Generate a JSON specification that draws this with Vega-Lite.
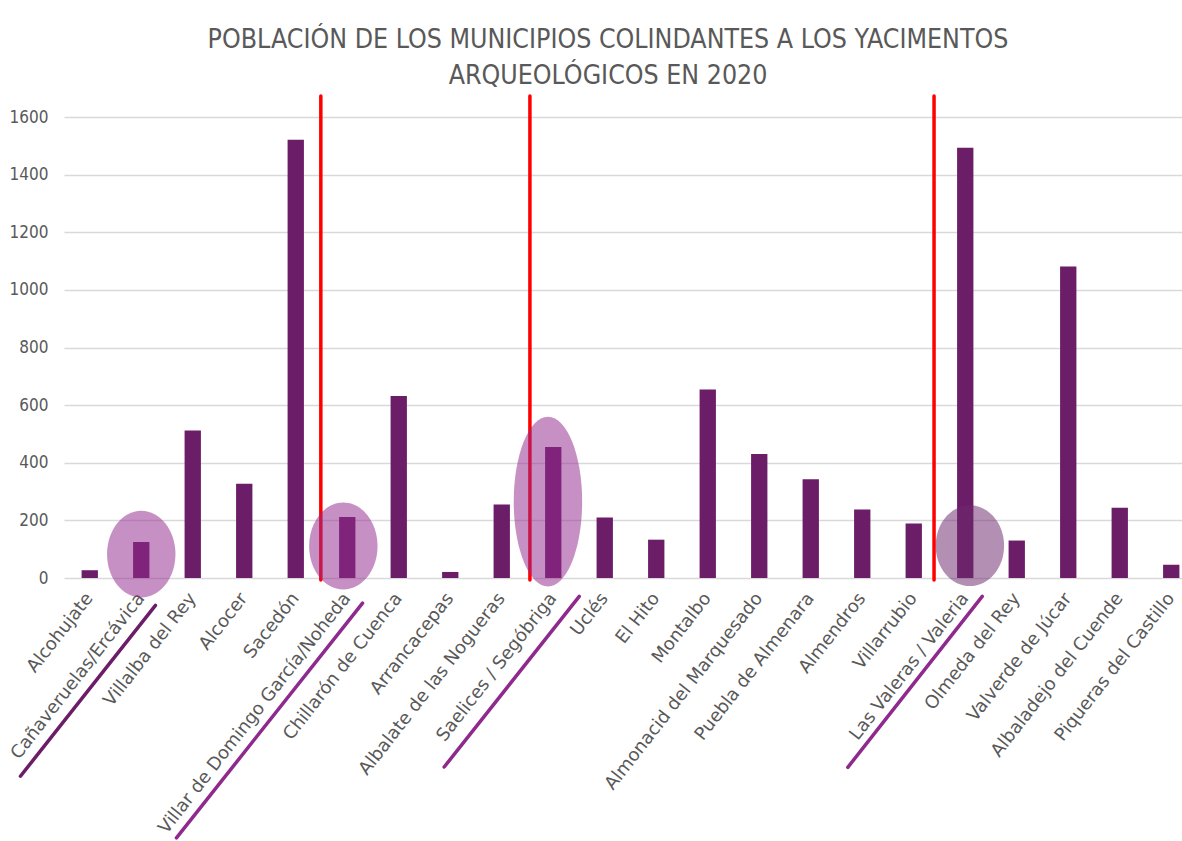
{
  "$schema": "https://vega.github.io/schema/vega-lite/v6.json",
  "width": 1118,
  "height": 461,
  "autosize": "none",
  "padding": {"left": 64, "top": 117, "right": 0, "bottom": 263},
  "background": "white",
  "config": {
    "view": {"stroke": null},
    "axis": {"labelColor": "#595959", "title": null}
  },
  "title": {
    "text": ["POBLACIÓN DE LOS MUNICIPIOS COLINDANTES A LOS YACIMENTOS", "ARQUEOLÓGICOS EN 2020"],
    "font": "Liberation Sans Narrow, DejaVu Sans Condensed, Roboto Condensed, Liberation Sans",
    "fontSize": 26.5,
    "fontWeight": "normal",
    "color": "#595959",
    "lineHeight": 36,
    "anchor": "middle",
    "dx": -15,
    "offset": 5
  },
  "datasets": {
    "poblacion": [
      {"municipio": "Alcohujate", "habitantes": 27},
      {"municipio": "Cañaveruelas/Ercávica", "habitantes": 125},
      {"municipio": "Villalba del Rey", "habitantes": 512},
      {"municipio": "Alcocer", "habitantes": 327},
      {"municipio": "Sacedón", "habitantes": 1521},
      {"municipio": "Villar de Domingo García/Noheda", "habitantes": 212},
      {"municipio": "Chillarón de Cuenca", "habitantes": 632},
      {"municipio": "Arrancacepas", "habitantes": 21},
      {"municipio": "Albalate de las Nogueras", "habitantes": 255},
      {"municipio": "Saelices / Segóbriga", "habitantes": 455},
      {"municipio": "Uclés", "habitantes": 210},
      {"municipio": "El Hito", "habitantes": 133},
      {"municipio": "Montalbo", "habitantes": 654},
      {"municipio": "Almonacid del Marquesado", "habitantes": 430},
      {"municipio": "Puebla de Almenara", "habitantes": 343},
      {"municipio": "Almendros", "habitantes": 238},
      {"municipio": "Villarrubio", "habitantes": 189},
      {"municipio": "Las Valeras / Valeria", "habitantes": 1493},
      {"municipio": "Olmeda del Rey", "habitantes": 130},
      {"municipio": "Valverde de Júcar", "habitantes": 1081},
      {"municipio": "Albaladejo del Cuende", "habitantes": 244},
      {"municipio": "Piqueras del Castillo", "habitantes": 46}
    ],
    "separadores": [
      {"posicion": 4.487},
      {"posicion": 8.547},
      {"posicion": 16.394}
    ],
    "yacimientos": [
      {"municipio": "Cañaveruelas/Ercávica", "posicion": 1.0, "centro": 83},
      {"municipio": "Villar de Domingo García/Noheda", "posicion": 4.924, "centro": 111},
      {"municipio": "Saelices / Segóbriga", "posicion": 8.897, "centro": 265},
      {"municipio": "Las Valeras / Valeria", "posicion": 17.09, "centro": 112}
    ],
    "subrayados": [
      {"municipio": "Cañaveruelas/Ercávica", "inicio": -1.346, "fin": 1.276, "bajo": -688, "alto": -95},
      {"municipio": "Villar de Domingo García/Noheda", "inicio": 1.684, "fin": 5.297, "bajo": -902, "alto": -87},
      {"municipio": "Saelices / Segóbriga", "inicio": 6.882, "fin": 9.505, "bajo": -656, "alto": -64},
      {"municipio": "Las Valeras / Valeria", "inicio": 14.72, "fin": 17.33, "bajo": -657, "alto": -64}
    ]
  },
  "resolve": {"scale": {"x": "independent"}},
  "layer": [
    {
      "data": {"name": "poblacion"},
      "mark": {"type": "bar", "color": "#6B1D68"},
      "encoding": {
        "x": {
          "field": "municipio",
          "type": "nominal",
          "sort": null,
          "scale": {"range": [0, 1133], "paddingInner": 0.683, "paddingOuter": 0.3415},
          "axis": {
            "labelAngle": -52,
            "labelAlign": "right",
            "labelBaseline": "middle",
            "labelFont": "DejaVu Sans",
            "labelFontSize": 18,
            "labelColor": "#595959",
            "labelPadding": 17,
            "labelLimit": 500,
            "labelOverlap": false,
            "ticks": false,
            "domain": false,
            "grid": false,
            "title": null
          }
        },
        "y": {
          "field": "habitantes",
          "type": "quantitative",
          "scale": {"domain": [0, 1600], "nice": false},
          "axis": {
            "values": [0, 200, 400, 600, 800, 1000, 1200, 1400, 1600],
            "format": "d",
            "grid": true,
            "gridColor": "#D9D9D9",
            "gridWidth": 1.4,
            "ticks": false,
            "domain": false,
            "labelFont": "Liberation Sans Narrow, DejaVu Sans Condensed, Liberation Sans",
            "labelFontSize": 17,
            "labelColor": "#595959",
            "labelPadding": 16,
            "title": null
          }
        }
      }
    },
    {
      "layer": [
        {
          "data": {"name": "separadores"},
          "mark": {"type": "rule", "color": "#FF0000", "strokeWidth": 3.5, "strokeCap": "round"},
          "encoding": {
            "x": {"field": "posicion", "type": "quantitative", "scale": {"domain": [-0.5, 21.5], "range": [0, 1133], "nice": false, "zero": false}, "axis": null},
            "y": {"datum": 1673, "type": "quantitative", "scale": {"domain": [0, 1600], "nice": false}, "title": null},
            "y2": {"datum": -7}
          }
        },
        {
          "data": {"name": "yacimientos"},
          "mark": {"type": "point", "filled": true, "size": 4680, "opacity": 0.52, "strokeWidth": 0},
          "encoding": {
            "x": {"field": "posicion", "type": "quantitative", "scale": {"domain": [-0.5, 21.5], "range": [0, 1133], "nice": false, "zero": false}, "axis": null},
            "y": {"field": "centro", "type": "quantitative", "scale": {"domain": [0, 1600], "nice": false}, "title": null},
            "shape": {
              "field": "municipio",
              "type": "nominal",
              "legend": null,
              "scale": {
                "domain": ["Cañaveruelas/Ercávica", "Villar de Domingo García/Noheda", "Saelices / Segóbriga", "Las Valeras / Valeria"],
                "range": [
                  "M 1 0 C 1 0.7014 0.5523 1.27 0 1.27 C -0.5523 1.27 -1 0.7014 -1 0 C -1 -0.7014 -0.5523 -1.27 0 -1.27 C 0.5523 -1.27 1 -0.7014 1 0 Z",
                  "M 1 0 C 1 0.7014 0.5523 1.27 0 1.27 C -0.5523 1.27 -1 0.7014 -1 0 C -1 -0.7014 -0.5523 -1.27 0 -1.27 C 0.5523 -1.27 1 -0.7014 1 0 Z",
                  "M 1 0 C 1 1.3697 0.5523 2.48 0 2.48 C -0.5523 2.48 -1 1.3697 -1 0 C -1 -1.3697 -0.5523 -2.48 0 -2.48 C 0.5523 -2.48 1 -1.3697 1 0 Z",
                  "M 1 0 C 1 0.6517 0.5523 1.18 0 1.18 C -0.5523 1.18 -1 0.6517 -1 0 C -1 -0.6517 -0.5523 -1.18 0 -1.18 C 0.5523 -1.18 1 -0.6517 1 0 Z"
                ]
              }
            },
            "color": {
              "condition": {"test": "datum.municipio === 'Las Valeras / Valeria'", "value": "#6E2A6E"},
              "value": "#922B8E"
            }
          }
        },
        {
          "data": {"name": "subrayados"},
          "mark": {"type": "rule", "strokeWidth": 3.5, "strokeCap": "round"},
          "encoding": {
            "x": {"field": "inicio", "type": "quantitative", "scale": {"domain": [-0.5, 21.5], "range": [0, 1133], "nice": false, "zero": false}, "axis": null},
            "x2": {"field": "fin"},
            "y": {"field": "bajo", "type": "quantitative", "scale": {"domain": [0, 1600], "nice": false}, "title": null},
            "y2": {"field": "alto"},
            "color": {
              "condition": {"test": "datum.municipio === 'Cañaveruelas/Ercávica'", "value": "#6B1D68"},
              "value": "#8E2A8E"
            }
          }
        }
      ]
    }
  ]
}
